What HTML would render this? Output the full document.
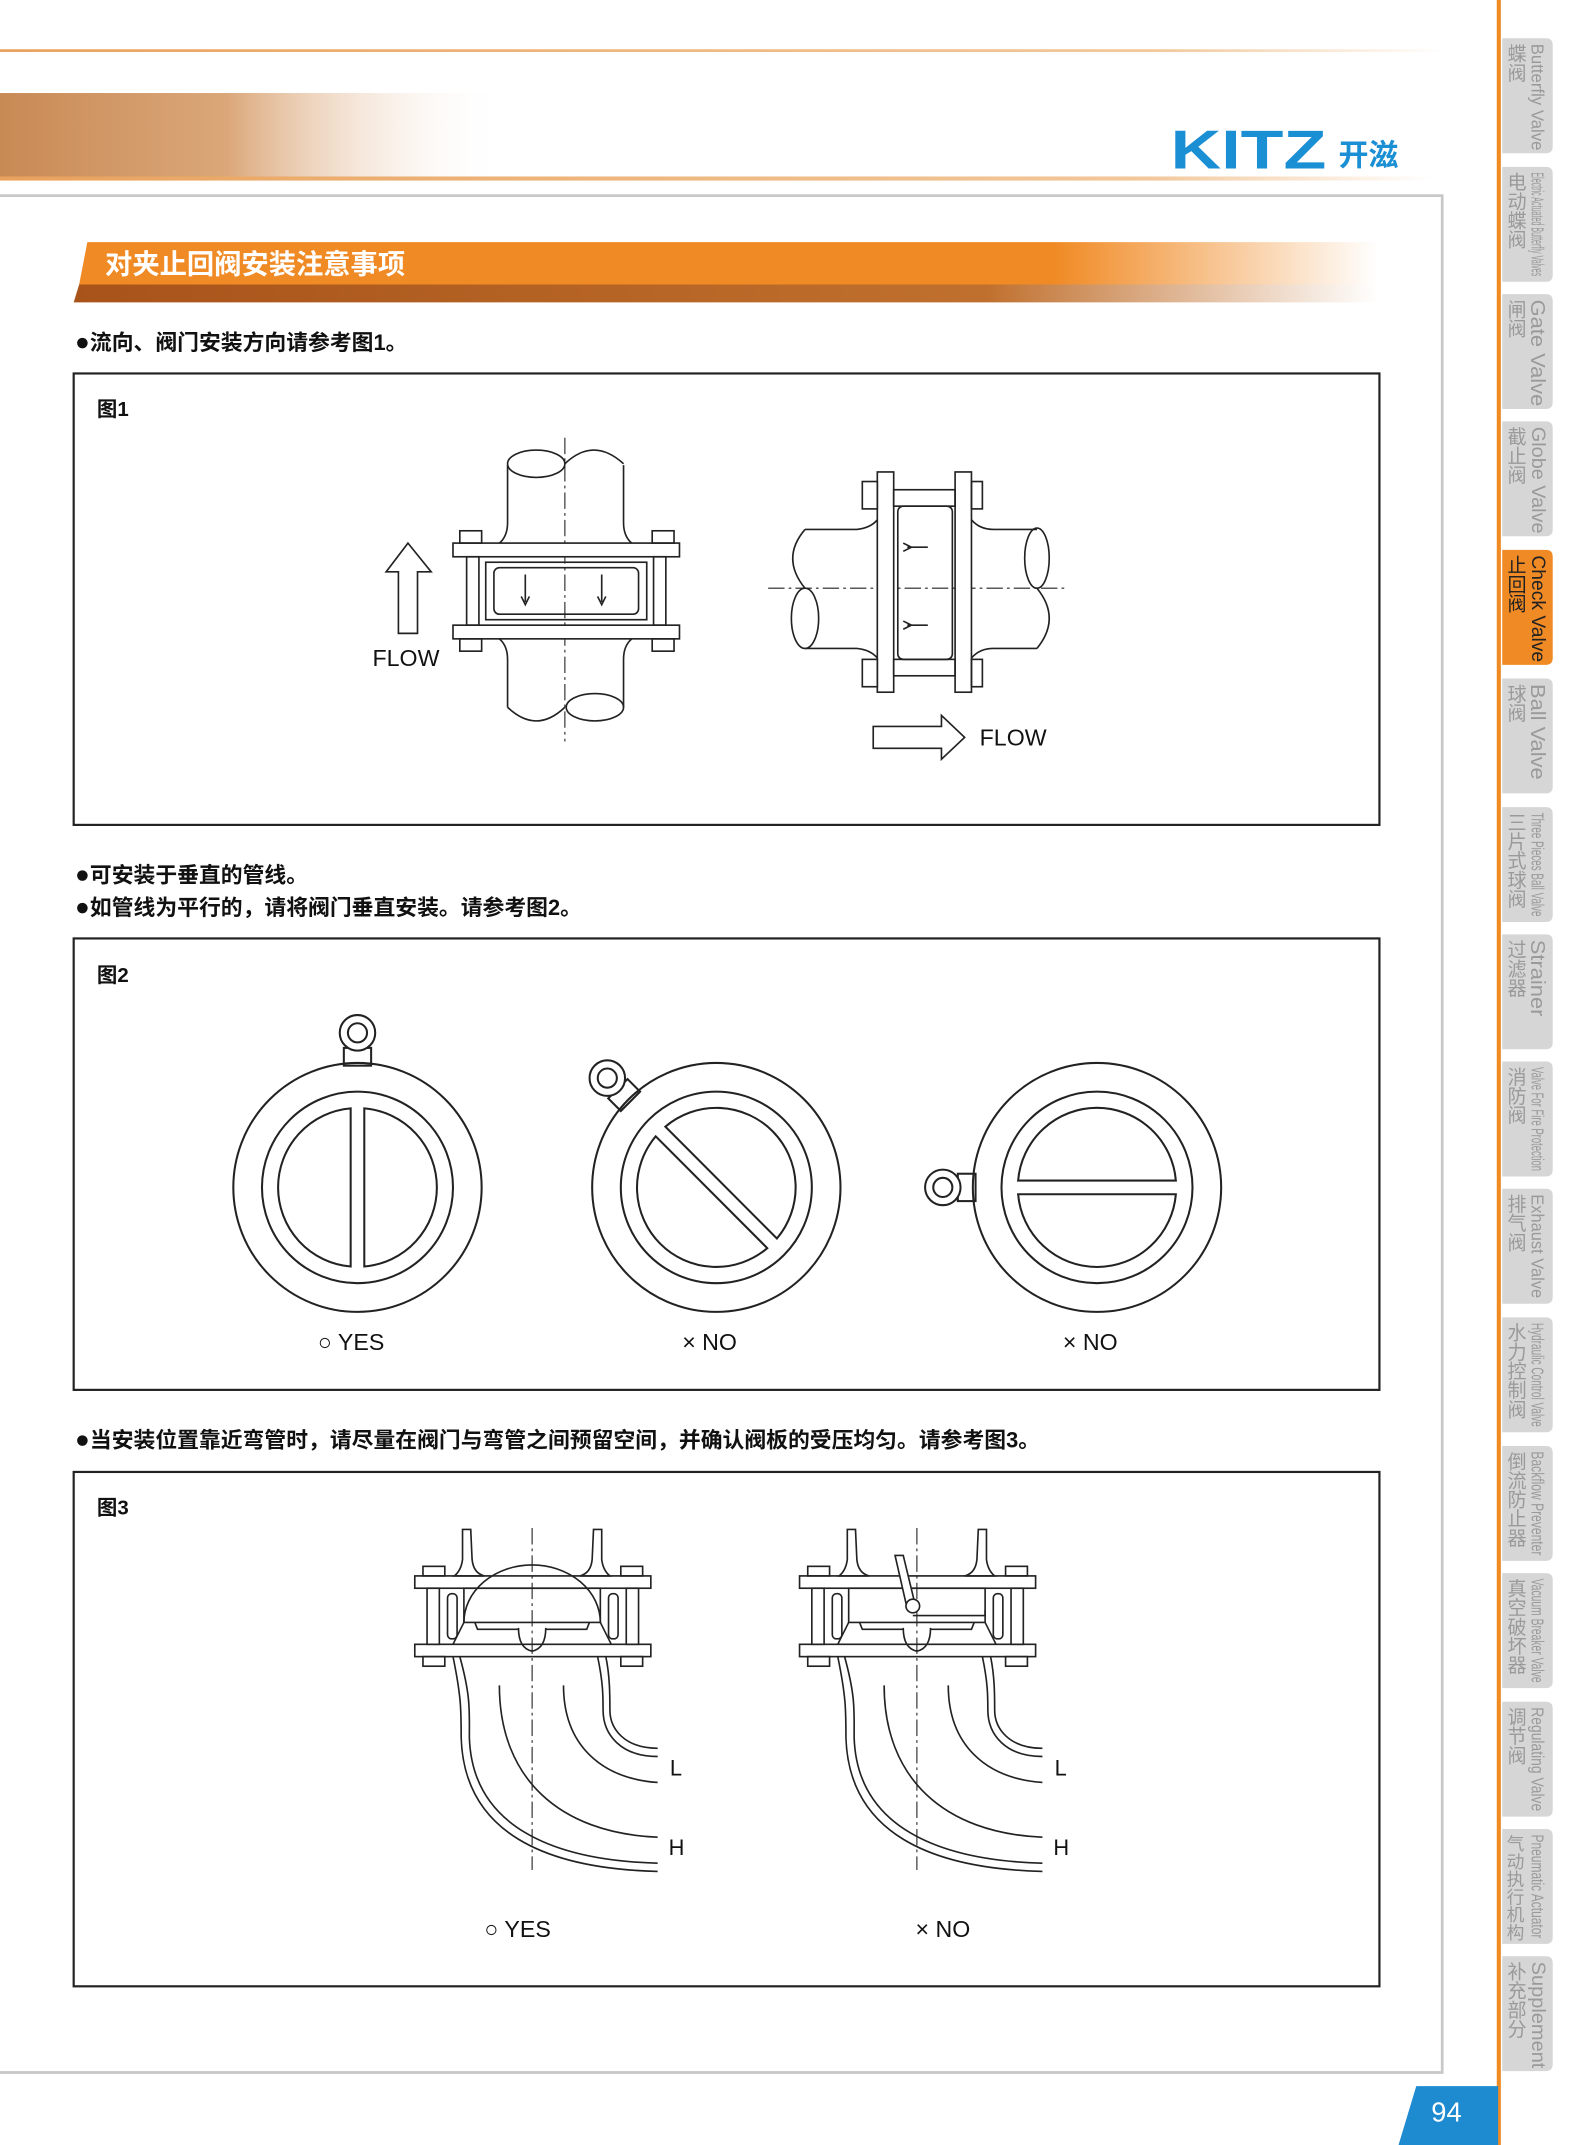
<!DOCTYPE html>
<html><head><meta charset="utf-8"><style>
html,body{margin:0;padding:0;background:#fff}
svg{display:block}
text{font-family:"Liberation Sans","Noto Sans CJK SC",sans-serif}
</style></head><body>
<svg width="1580" height="2145" viewBox="0 0 1158 1568" preserveAspectRatio="none" xmlns="http://www.w3.org/2000/svg">
<defs>
<linearGradient id="hdr" x1="0" x2="1" y1="0" y2="0">
<stop offset="0" stop-color="#c88a55"/><stop offset="0.45" stop-color="#dba779"/><stop offset="1" stop-color="#fff" stop-opacity="0"/></linearGradient>
<linearGradient id="ln" x1="0" x2="1"><stop offset="0" stop-color="#e9a25c"/><stop offset="0.8" stop-color="#f2c79a"/><stop offset="1" stop-color="#fff"/></linearGradient>
<linearGradient id="tt" x1="0" x2="1"><stop offset="0" stop-color="#f08a24"/><stop offset="0.75" stop-color="#f08a24"/><stop offset="1" stop-color="#fff"/></linearGradient>
<linearGradient id="tb" x1="0" x2="1"><stop offset="0" stop-color="#a8531a"/><stop offset="0.7" stop-color="#c0702e"/><stop offset="1" stop-color="#fff"/></linearGradient>
</defs>
<!-- header -->
<rect x="0" y="36" width="1060" height="2" fill="url(#ln)"/>
<rect x="0" y="68" width="370" height="62" fill="url(#hdr)"/>
<rect x="0" y="129" width="1050" height="3" fill="url(#ln)"/>
<text x="858" y="123" font-size="40" font-weight="bold" fill="#1b8fd4" textLength="114" lengthAdjust="spacingAndGlyphs">KITZ</text>
<text x="981" y="121" font-size="22" font-weight="bold" fill="#1b8fd4">开滋</text>
<!-- main frame -->
<path d="M0 143 H1057 V1515 H0" fill="none" stroke="#c8c8c8" stroke-width="2"/>
<!-- title -->
<polygon points="64,177 1010,177 1010,208 58,208" fill="url(#tt)"/>
<polygon points="58,208 1010,208 1010,221 54,221" fill="url(#tb)"/>
<text x="77" y="200" font-size="20" font-weight="bold" fill="#fff">对夹止回阀安装注意事项</text>
<g font-size="16" fill="#111" font-weight="bold">
<text x="55" y="256"><tspan font-size="18">●</tspan>流向、阀门安装方向请参考图1。</text>
<text x="55" y="645"><tspan font-size="18">●</tspan>可安装于垂直的管线。</text>
<text x="55" y="669"><tspan font-size="18">●</tspan>如管线为平行的，请将阀门垂直安装。请参考图2。</text>
<text x="55" y="1058"><tspan font-size="18">●</tspan>当安装位置靠近弯管时，请尽量在阀门与弯管之间预留空间，并确认阀板的受压均匀。请参考图3。</text>
</g>
<g fill="none" stroke="#222" stroke-width="1.6">
<rect x="54" y="273" width="957" height="330"/>
<rect x="54" y="686" width="957" height="330"/>
<rect x="54" y="1076" width="957" height="376"/>
</g>
<g font-size="15" fill="#111" font-weight="bold">
<text x="71" y="304">图1</text>
<text x="71" y="718">图2</text>
<text x="71" y="1107">图3</text>
</g>

<!-- FIG 1 -->
<g fill="none" stroke="#222" stroke-width="1.2">
<line x1="414" y1="320" x2="414" y2="542" stroke-dasharray="12,3,2,3" stroke-width="0.8"/>
<path d="M372 340 L372 382 Q372 392 366 397"/><path d="M457 340 L457 382 Q457 392 463 397"/>
<ellipse cx="393" cy="339" rx="21" ry="10"/><path d="M414 339 Q435 319 457 339"/>
<path d="M366 467 Q372 472 372 482 L372 517"/><path d="M463 467 Q457 472 457 482 L457 517"/>
<path d="M372 517 Q393 537 414 517"/><ellipse cx="436" cy="517" rx="21" ry="10"/>
<rect x="332" y="397" width="166" height="10" fill="#fff"/><rect x="332" y="457" width="166" height="10" fill="#fff"/>
<rect x="337" y="388" width="16" height="9"/><rect x="337" y="467" width="16" height="9"/>
<rect x="478" y="388" width="16" height="9"/><rect x="478" y="467" width="16" height="9"/>
<rect x="342" y="407" width="9" height="50"/><rect x="479" y="407" width="9" height="50"/>
<rect x="356" y="411" width="118" height="42"/><rect x="362" y="415" width="106" height="34" rx="4"/>
<path d="M385 420 V440 M382 436 L385 442 L388 436"/><path d="M441 420 V440 M438 436 L441 442 L444 436"/>
<polygon points="299,397 316,418 306,418 306,463 292,463 292,418 283,418"/>
<!-- right valve -->
<line x1="563" y1="430" x2="782" y2="430" stroke-dasharray="12,3,2,3" stroke-width="0.8"/>
<path d="M590 387 L628 387 Q638 386 643 380"/><path d="M590 474 L628 474 Q638 475 643 481"/>
<path d="M590 387 Q572 408 590 430"/><ellipse cx="590" cy="452" rx="10" ry="22"/>
<path d="M712 380 Q718 387 728 387 L760 387"/><path d="M712 481 Q718 474 728 474 L760 474"/>
<ellipse cx="760" cy="408" rx="9" ry="22"/><path d="M760 430 Q778 452 760 474"/>
<rect x="643" y="345" width="12" height="161" fill="#fff"/><rect x="700" y="345" width="12" height="161" fill="#fff"/>
<rect x="632" y="352" width="11" height="20"/><rect x="712" y="352" width="8" height="20"/>
<rect x="632" y="482" width="11" height="20"/><rect x="712" y="482" width="8" height="20"/>
<rect x="655" y="358" width="45" height="12"/><rect x="655" y="482" width="45" height="12"/>
<rect x="658" y="370" width="40" height="112" rx="4"/>
<path d="M665 400 H680 M662 397 L668 400 L662 403"/><path d="M665 457 H680 M662 454 L668 457 L662 460"/>
<polygon points="640,531 690,531 690,523 707,539 690,555 690,547 640,547"/>
</g>
<text x="273" y="487" font-size="17" fill="#111">FLOW</text>
<text x="718" y="545" font-size="17" fill="#111">FLOW</text>

<!-- FIG 2 -->
<g fill="none" stroke="#222" stroke-width="1.5">
<g transform="translate(262,868)">
<circle r="91"/><circle r="70"/>
<path d="M-5 -57.8 A58 58 0 0 0 -5 57.8 Z"/><path d="M5 -57.8 A58 58 0 0 1 5 57.8 Z"/>
<rect x="-10" y="-102" width="20" height="13"/><circle cx="0" cy="-113" r="13" fill="#fff"/><circle cx="0" cy="-113" r="7"/>
</g>
<g transform="translate(525,868) rotate(-45)">
<circle r="91"/><circle r="70"/>
<path d="M-5 -57.8 A58 58 0 0 0 -5 57.8 Z"/><path d="M5 -57.8 A58 58 0 0 1 5 57.8 Z"/>
<rect x="-10" y="-102" width="20" height="13"/><circle cx="0" cy="-113" r="13" fill="#fff"/><circle cx="0" cy="-113" r="7"/>
</g>
<g transform="translate(804,868) rotate(-90)">
<circle r="91"/><circle r="70"/>
<path d="M-5 -57.8 A58 58 0 0 0 -5 57.8 Z"/><path d="M5 -57.8 A58 58 0 0 1 5 57.8 Z"/>
<rect x="-10" y="-102" width="20" height="13"/><circle cx="0" cy="-113" r="13" fill="#fff"/><circle cx="0" cy="-113" r="7"/>
</g>
</g>
<text x="233" y="987" font-size="17" fill="#111">○ YES</text>
<text x="500" y="987" font-size="17" fill="#111">× NO</text>
<text x="779" y="987" font-size="17" fill="#111">× NO</text>

<!-- FIG 3 -->
<g id="v3" fill="none" stroke="#222" stroke-width="1.2">
<line x1="390" y1="1117" x2="390" y2="1367" stroke-dasharray="12,3,2,3" stroke-width="0.8"/>
<path d="M339 1118 L345 1118 L346 1140 Q347 1150 355 1152 L333 1152 Q338 1148 339 1140 Z"/>
<path d="M441 1118 L435 1118 L434 1140 Q433 1150 425 1152 L447 1152 Q442 1148 441 1140 Z"/>
<rect x="304" y="1152" width="173" height="9"/><rect x="304" y="1202" width="173" height="9"/>
<rect x="310" y="1145" width="16" height="7"/><rect x="455" y="1145" width="16" height="7"/>
<rect x="310" y="1211" width="16" height="7"/><rect x="455" y="1211" width="16" height="7"/>
<rect x="313" y="1161" width="9" height="41"/><rect x="459" y="1161" width="9" height="41"/>
<rect x="328" y="1165" width="7" height="33" rx="3"/><rect x="446" y="1165" width="7" height="33" rx="3"/>
<rect x="340" y="1161" width="100" height="25"/>
<path d="M340 1186 L332 1202 M440 1186 L448 1202"/>
<path d="M348 1186 L350 1191 H380 M432 1186 L430 1191 H400 M380 1190 Q380 1205 390 1207 Q400 1205 400 1190"/>
<path d="M332 1211 C338 1240 338 1250 338 1270 C340 1340 400 1366 482 1368"/>
<path d="M337 1211 C345 1240 344 1250 344 1270 C346 1335 405 1360 482 1362"/>
<path d="M366 1232 C366 1300 410 1340 482 1343"/>
<path d="M413 1232 C413 1275 440 1300 482 1303"/>
<path d="M438 1211 C442 1230 442 1240 442 1250 C442 1268 455 1284 482 1284"/>
<path d="M444 1211 C447 1225 447 1240 447 1250 C447 1264 458 1278 482 1278"/>
</g>
<path d="M340 1186 A50 42 0 0 1 440 1186" fill="none" stroke="#222" stroke-width="1.2"/>
<use href="#v3" transform="translate(282,0)"/>
<g fill="#fff" stroke="#222" stroke-width="1.2">
<polygon points="656,1137 662,1137 670,1170 664,1172"/>
<circle cx="669" cy="1174" r="5"/>
<path d="M669 1181 H722 V1177" fill="none"/>
</g>
<g font-size="16" fill="#111">
<text x="491" y="1298">L</text><text x="490" y="1356">H</text>
<text x="773" y="1298">L</text><text x="772" y="1356">H</text>
</g>
<text x="355" y="1416" font-size="17" fill="#111">○ YES</text>
<text x="671" y="1416" font-size="17" fill="#111">× NO</text>

<!-- sidebar -->
<rect x="1097" y="0" width="3" height="1568" fill="#f08a24"/>
<g font-size="13">
<g transform="translate(0,28)"><path d="M1101 0 H1133 Q1138 0 1138 5 V79 Q1138 84 1133 84 H1101 Z" fill="#d6d6d6"/><text x="1127" y="4" writing-mode="vertical-rl" fill="#9a9a9a" textLength="78" lengthAdjust="spacingAndGlyphs">Butterfly Valve</text><text x="1110" y="4" writing-mode="vertical-rl" font-size="14" fill="#9a9a9a">蝶阀</text></g>
<g transform="translate(0,122)"><path d="M1101 0 H1133 Q1138 0 1138 5 V79 Q1138 84 1133 84 H1101 Z" fill="#d6d6d6"/><text x="1127" y="4" writing-mode="vertical-rl" fill="#9a9a9a" textLength="76" lengthAdjust="spacingAndGlyphs">Electric Actuated Butterfly Valves</text><text x="1110" y="4" writing-mode="vertical-rl" font-size="14" fill="#9a9a9a">电动蝶阀</text></g>
<g transform="translate(0,215)"><path d="M1101 0 H1133 Q1138 0 1138 5 V79 Q1138 84 1133 84 H1101 Z" fill="#d6d6d6"/><text x="1127" y="4" writing-mode="vertical-rl" fill="#9a9a9a" font-size="15" textLength="78" lengthAdjust="spacingAndGlyphs">Gate Valve</text><text x="1110" y="4" writing-mode="vertical-rl" font-size="14" fill="#9a9a9a">闸阀</text></g>
<g transform="translate(0,308)"><path d="M1101 0 H1133 Q1138 0 1138 5 V79 Q1138 84 1133 84 H1101 Z" fill="#d6d6d6"/><text x="1127" y="4" writing-mode="vertical-rl" fill="#9a9a9a" font-size="14" textLength="78" lengthAdjust="spacingAndGlyphs">Globe Valve</text><text x="1110" y="4" writing-mode="vertical-rl" font-size="14" fill="#9a9a9a">截止阀</text></g>
<g transform="translate(0,402)"><path d="M1101 0 H1133 Q1138 0 1138 5 V79 Q1138 84 1133 84 H1101 Z" fill="#f08a24"/><text x="1127" y="4" writing-mode="vertical-rl" fill="#222" font-size="14" textLength="78" lengthAdjust="spacingAndGlyphs">Check Valve</text><text x="1110" y="4" writing-mode="vertical-rl" font-size="14" fill="#222">止回阀</text></g>
<g transform="translate(0,496)"><path d="M1101 0 H1133 Q1138 0 1138 5 V79 Q1138 84 1133 84 H1101 Z" fill="#d6d6d6"/><text x="1127" y="4" writing-mode="vertical-rl" fill="#9a9a9a" font-size="15" textLength="70" lengthAdjust="spacingAndGlyphs">Ball Valve</text><text x="1110" y="4" writing-mode="vertical-rl" font-size="14" fill="#9a9a9a">球阀</text></g>
<g transform="translate(0,590)"><path d="M1101 0 H1133 Q1138 0 1138 5 V79 Q1138 84 1133 84 H1101 Z" fill="#d6d6d6"/><text x="1127" y="4" writing-mode="vertical-rl" fill="#9a9a9a" textLength="76" lengthAdjust="spacingAndGlyphs">Three Pieces Ball Valve</text><text x="1110" y="4" writing-mode="vertical-rl" font-size="14" fill="#9a9a9a">三片式球阀</text></g>
<g transform="translate(0,683)"><path d="M1101 0 H1133 Q1138 0 1138 5 V79 Q1138 84 1133 84 H1101 Z" fill="#d6d6d6"/><text x="1127" y="4" writing-mode="vertical-rl" fill="#9a9a9a" font-size="15" textLength="56" lengthAdjust="spacingAndGlyphs">Strainer</text><text x="1110" y="4" writing-mode="vertical-rl" font-size="14" fill="#9a9a9a">过滤器</text></g>
<g transform="translate(0,776)"><path d="M1101 0 H1133 Q1138 0 1138 5 V79 Q1138 84 1133 84 H1101 Z" fill="#d6d6d6"/><text x="1127" y="4" writing-mode="vertical-rl" fill="#9a9a9a" textLength="76" lengthAdjust="spacingAndGlyphs">Valve For Fire Protection</text><text x="1110" y="4" writing-mode="vertical-rl" font-size="14" fill="#9a9a9a">消防阀</text></g>
<g transform="translate(0,869)"><path d="M1101 0 H1133 Q1138 0 1138 5 V79 Q1138 84 1133 84 H1101 Z" fill="#d6d6d6"/><text x="1127" y="4" writing-mode="vertical-rl" fill="#9a9a9a" textLength="76" lengthAdjust="spacingAndGlyphs">Exhaust Valve</text><text x="1110" y="4" writing-mode="vertical-rl" font-size="14" fill="#9a9a9a">排气阀</text></g>
<g transform="translate(0,963)"><path d="M1101 0 H1133 Q1138 0 1138 5 V79 Q1138 84 1133 84 H1101 Z" fill="#d6d6d6"/><text x="1127" y="4" writing-mode="vertical-rl" fill="#9a9a9a" textLength="76" lengthAdjust="spacingAndGlyphs">Hydraulic Control Valve</text><text x="1110" y="4" writing-mode="vertical-rl" font-size="14" fill="#9a9a9a">水力控制阀</text></g>
<g transform="translate(0,1057)"><path d="M1101 0 H1133 Q1138 0 1138 5 V79 Q1138 84 1133 84 H1101 Z" fill="#d6d6d6"/><text x="1127" y="4" writing-mode="vertical-rl" fill="#9a9a9a" textLength="76" lengthAdjust="spacingAndGlyphs">Backflow Preventer</text><text x="1110" y="4" writing-mode="vertical-rl" font-size="14" fill="#9a9a9a">倒流防止器</text></g>
<g transform="translate(0,1150)"><path d="M1101 0 H1133 Q1138 0 1138 5 V79 Q1138 84 1133 84 H1101 Z" fill="#d6d6d6"/><text x="1127" y="4" writing-mode="vertical-rl" fill="#9a9a9a" textLength="76" lengthAdjust="spacingAndGlyphs">Vacuum Breaker Valve</text><text x="1110" y="4" writing-mode="vertical-rl" font-size="14" fill="#9a9a9a">真空破坏器</text></g>
<g transform="translate(0,1244)"><path d="M1101 0 H1133 Q1138 0 1138 5 V79 Q1138 84 1133 84 H1101 Z" fill="#d6d6d6"/><text x="1127" y="4" writing-mode="vertical-rl" fill="#9a9a9a" textLength="76" lengthAdjust="spacingAndGlyphs">Regulating Valve</text><text x="1110" y="4" writing-mode="vertical-rl" font-size="14" fill="#9a9a9a">调节阀</text></g>
<g transform="translate(0,1337)"><path d="M1101 0 H1133 Q1138 0 1138 5 V79 Q1138 84 1133 84 H1101 Z" fill="#d6d6d6"/><text x="1127" y="4" writing-mode="vertical-rl" fill="#9a9a9a" textLength="76" lengthAdjust="spacingAndGlyphs">Pneumatic Actuator</text><text x="1110" y="4" writing-mode="vertical-rl" font-size="13" fill="#9a9a9a">气动执行机构</text></g>
<g transform="translate(0,1430)"><path d="M1101 0 H1133 Q1138 0 1138 5 V79 Q1138 84 1133 84 H1101 Z" fill="#d6d6d6"/><text x="1127" y="4" writing-mode="vertical-rl" fill="#9a9a9a" font-size="14" textLength="78" lengthAdjust="spacingAndGlyphs">Supplement</text><text x="1110" y="4" writing-mode="vertical-rl" font-size="14" fill="#9a9a9a">补充部分</text></g>
</g>
<!-- page number -->
<polygon points="1038,1525 1098,1525 1098,1568 1025,1568" fill="#1e8ad0"/>
<text x="1049" y="1551" font-size="20" fill="#fff">94</text>
</svg>
</body></html>
